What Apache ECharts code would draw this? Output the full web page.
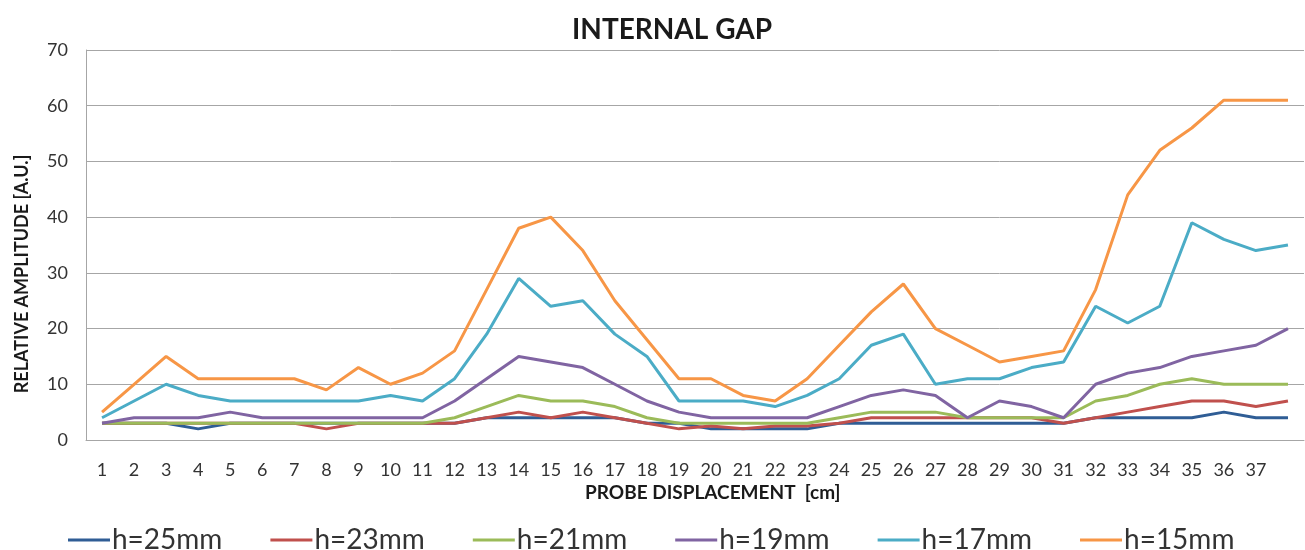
<!DOCTYPE html>
<html>
<head>
<meta charset="utf-8">
<script src="https://cdn.jsdelivr.net/npm/echarts@6/dist/echarts.min.js"></script>
<style>html,body{margin:0;padding:0;background:#fff}#c{width:1305px;height:550px}</style>
</head>
<body>
<div id="c"></div>
<script>
var categories = ['1','2','3','4','5','6','7','8','9','10','11','12','13','14','15','16','17','18','19','20','21','22','23','24','25','26','27','28','29','30','31','32','33','34','35','36','37',''];
var seriesNames = ['h=25mm','h=23mm','h=21mm','h=19mm','h=17mm','h=15mm'];
var h25 = [3,3,3,2,3,3,3,3,3,3,3,3,4,4,4,4,4,3,3,2,2,2,2,3,3,3,3,3,3,3,3,4,4,4,4,5,4,4];
var h23 = [3,3,3,3,3,3,3,2,3,3,3,3,4,5,4,5,4,3,2,2.5,2,2.5,2.5,3,4,4,4,4,4,4,3,4,5,6,7,7,6,7];
var h21 = [3,3,3,3,3,3,3,3,3,3,3,4,6,8,7,7,6,4,3,3,3,3,3,4,5,5,5,4,4,4,4,7,8,10,11,10,10,10];
var h19 = [3,4,4,4,5,4,4,4,4,4,4,7,11,15,14,13,10,7,5,4,4,4,4,6,8,9,8,4,7,6,4,10,12,13,15,16,17,20];
var h17 = [4,7,10,8,7,7,7,7,7,8,7,11,19,29,24,25,19,15,7,7,7,6,8,11,17,19,10,11,11,13,14,24,21,24,39,36,34,35];
var h15 = [5,10,15,11,11,11,11,9,13,10,12,16,27,38,40,34,25,18,11,11,8,7,11,17,23,28,20,17,14,15,16,27,44,52,56,61,61,61];
var yTicks = {min: 0, max: 70, interval: 10};

var colors = ['#2f5d95','#c0504d','#9bbb59','#8064a2','#4bacc6','#f79646'];
var data = [h25,h23,h21,h19,h17,h15];
var FONT = 'Lato, "Open Sans", sans-serif';

var chart = echarts.init(document.getElementById('c'));
chart.setOption({
  animation: false,
  color: colors,
  title: [
    {text: 'INTERNAL GAP', left: 567, top: 11, textStyle: {fontFamily: FONT, fontSize: 28, fontWeight: 'bold', color: '#1a1a1a'}},
    {text: 'PROBE DISPLACEMENT  [cm]', left: 580, top: 478, textStyle: {fontFamily: FONT, fontSize: 19, fontWeight: 'bold', color: '#1a1a1a'}}
  ],
  graphic: [{
    type: 'text', x: 22, y: 274, rotation: Math.PI / 2,
    style: {text: 'RELATIVE AMPLITUDE [A.U.]', fontFamily: FONT, fontSize: 18, fontWeight: 'bold', fill: '#1a1a1a', align: 'center', verticalAlign: 'middle'}
  }],
  legend: {
    left: 63, top: 521,
    icon: 'rect', itemWidth: 42, itemHeight: 3, itemGap: 48,
    textStyle: {fontFamily: FONT, fontSize: 28, color: '#333', padding: [0,0,0,-3]},
    data: seriesNames
  },
  grid: {left: 86, right: 1, top: 50, bottom: 110},
  xAxis: {
    type: 'category', data: categories, boundaryGap: true,
    axisLine: {show: true, lineStyle: {color: '#a6a6a6', width: 1}},
    axisTick: {show: false},
    axisLabel: {interval: 0, margin: 21, fontFamily: FONT, fontSize: 18, color: '#333'}
  },
  yAxis: {
    type: 'value', min: yTicks.min, max: yTicks.max, interval: yTicks.interval,
    axisLine: {show: true, lineStyle: {color: '#a6a6a6', width: 1}},
    axisTick: {show: false},
    axisLabel: {margin: 18, fontFamily: FONT, fontSize: 18, color: '#333'},
    splitLine: {lineStyle: {color: '#a6a6a6', width: 1}}
  },
  series: seriesNames.map(function (n, i) {
    return {name: n, type: 'line', data: data[i], symbol: 'none', lineStyle: {width: 3, color: colors[i]}, z: 2 + i};
  })
});
</script>
</body>
</html>
